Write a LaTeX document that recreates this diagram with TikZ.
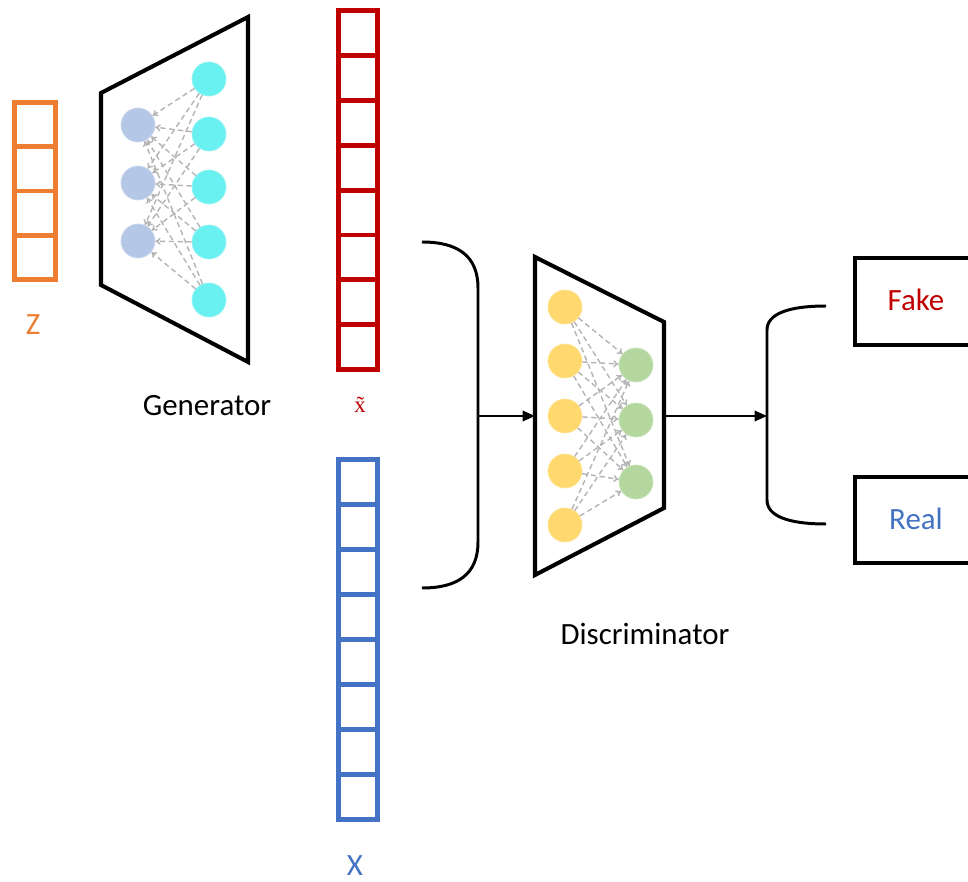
\documentclass[tikz,border=0pt]{standalone}
\usepackage{fontspec}
\setmainfont{Carlito}
\newfontfamily\seriffont{Liberation Serif}
\usetikzlibrary{arrows.meta}
\definecolor{zorange}{RGB}{237,125,49}
\definecolor{xred}{RGB}{192,0,0}
\definecolor{xblue}{RGB}{68,114,196}
\definecolor{gin}{RGB}{180,199,231}
\definecolor{gout}{RGB}{105,240,240}
\definecolor{din}{RGB}{255,217,110}
\definecolor{dout}{RGB}{180,215,160}
\definecolor{linkgray}{RGB}{180,180,180}
\tikzset{
  lbl/.style={font=\fontsize{17.6}{21}\selectfont, inner sep=0pt},
  zcell/.style={draw=zorange, line width=2.8pt, minimum width=0.82cm, minimum height=0.885cm, inner sep=0pt},
  rcell/.style={draw=xred, line width=2.8pt, minimum width=0.78cm, minimum height=0.898cm, inner sep=0pt},
  bcell/.style={draw=xblue, line width=2.8pt, minimum width=0.78cm, minimum height=0.9cm, inner sep=0pt},
  neuron/.style={circle, minimum size=0.68cm, inner sep=0pt, line width=0.4pt},
  trap/.style={line width=2.3pt, line join=miter},
  brace/.style={line width=1.7pt},
  link/.style={draw=linkgray, dashed, dash pattern=on 3pt off 2pt, line width=0.8pt, -{To[length=3pt,width=4pt]}},
  flow/.style={line width=0.9pt, -{Triangle[length=7pt,width=6pt]}},
  outbox/.style={line width=2.3pt}
}
\begin{document}
\begin{tikzpicture}[x=0.02cm,y=-0.02cm]
\clip (0,0) rectangle (968,882);
\fill[white] (0,0) rectangle (968,882);

% Z vector
\foreach \i in {1,...,4} \node[zcell] (z\i) at (35,{102.5+44.25*(\i-0.5)}) {};
\node[lbl, text=zorange] (zl) at (33,325) {Z};

% Generator
\coordinate (g1) at (101,93); \coordinate (g2) at (248,17);
\coordinate (g3) at (248,362); \coordinate (g4) at (101,285);
\draw[trap] (g1) -- (g2) -- (g3) -- (g4) -- cycle;
\foreach \i/\y in {1/125,2/183,3/241}
  \node[neuron, fill=gin, draw=gin!70!white] (gi\i) at (138,\y) {};
\foreach \j/\y in {1/79,2/134,3/187,4/242,5/300}
  \node[neuron, fill=gout, draw=gout!70!white] (go\j) at (209,\y) {};
\foreach \i in {1,2,3} \foreach \j in {1,...,5}
  \draw[link] (go\j) -- (gi\i);
\node[lbl] (gen) at (207,406) {Generator};

% x tilde vector
\foreach \i in {1,...,8} \node[rcell] (r\i) at (358,{10.5+44.9*(\i-0.5)}) {};
\node[inner sep=0pt, text=xred] (xtl) at (360,405) {\seriffont\fontsize{13}{15}\selectfont \~{x}};

% X vector
\foreach \i in {1,...,8} \node[bcell] (b\i) at (358,{459.5+45*(\i-0.5)}) {};
\node[lbl, text=xblue] (xl) at (355,866) {X};

% first brace
\coordinate (b1top) at (422,242);
\coordinate (b1mid) at (478,416);
\coordinate (b1bot) at (422,588);
\draw[brace] (b1top) .. controls (458,242) and (478,256) .. (478,288) -- (478,542) .. controls (478,574) and (458,588) .. (b1bot);

% Discriminator
\coordinate (d1) at (535,257); \coordinate (d2) at (664,322);
\coordinate (d3) at (664,508); \coordinate (d4) at (535,575);
\draw[trap] (d1) -- (d2) -- (d3) -- (d4) -- cycle;
\coordinate (dleft) at (535,416);
\coordinate (dright) at (664,416);
\draw[flow] (b1mid) -- (dleft);
\foreach \i/\y in {1/307,2/361,3/416,4/471,5/525}
  \node[neuron, fill=din, draw=din!70!white] (di\i) at (565,\y) {};
\foreach \j/\y in {1/365,2/420,3/482}
  \node[neuron, fill=dout, draw=dout!70!white] (do\j) at (636,\y) {};
\foreach \i in {1,...,5} \foreach \j in {1,2,3}
  \draw[link] (di\i) -- (do\j);
\node[lbl] (disc) at (645,634) {Discriminator};

% second brace
\coordinate (b2top) at (826,306);
\coordinate (b2mid) at (767,416);
\coordinate (b2bot) at (826,524);
\draw[flow] (dright) -- (b2mid);
\draw[brace] (b2top) .. controls (788,306) and (767,314) .. (767,330) -- (767,500) .. controls (767,516) and (788,524) .. (b2bot);

% outputs
\draw[outbox] (855,258) rectangle (1000,345);
\draw[outbox] (855,477) rectangle (1000,563);
\node[lbl, text=xred] (fake) at (916,300) {Fake};
\node[lbl, text=xblue] (real) at (916,519) {Real};
\end{tikzpicture}
\end{document}
